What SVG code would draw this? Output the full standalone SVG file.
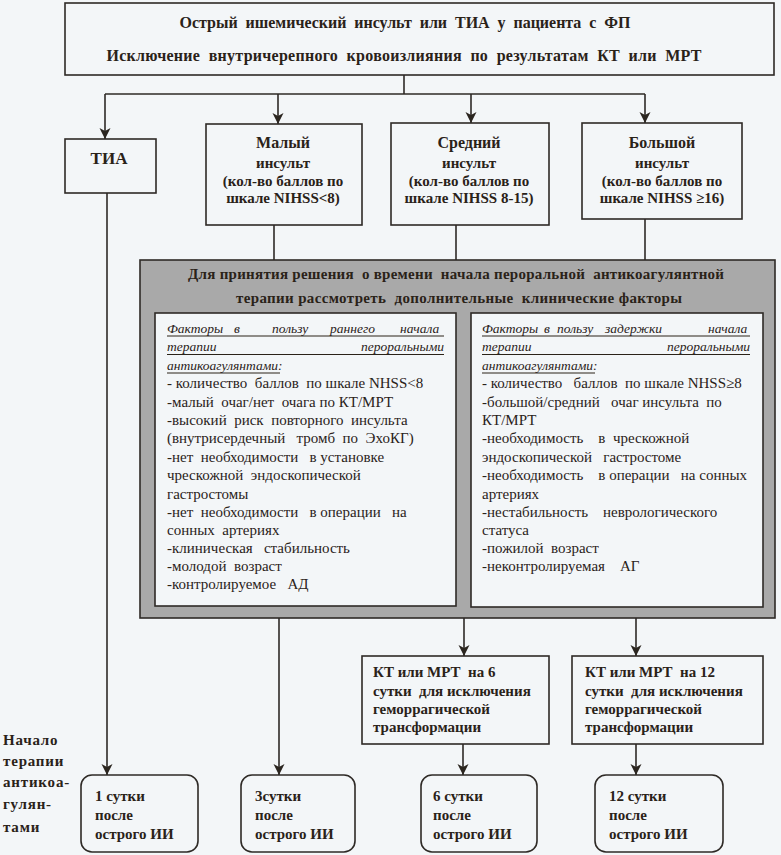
<svg xmlns="http://www.w3.org/2000/svg" width="781" height="855" viewBox="0 0 781 855" xml:space="preserve" font-family="'Liberation Serif', 'DejaVu Serif', serif">
<defs>
<marker id="ah" markerUnits="userSpaceOnUse" markerWidth="12" markerHeight="12" viewBox="0 0 12 12" refX="11" refY="6" orient="auto">
<path d="M0,0.5 L11,6 L0,11.5 L3,6 z" fill="#2b2620"/>
</marker>
<style>
.bg{fill:#f3f6f8}
.box{fill:#f3f6f8;stroke:#2e2a26;stroke-width:1.6}
.gray{fill:#a9a9a9;stroke:#2e2a26;stroke-width:1.6}
.ln{fill:none;stroke:#2e2a26;stroke-width:1.6}
.ar{fill:none;stroke:#2e2a26;stroke-width:1.6;marker-end:url(#ah)}
text{font-family:'Liberation Serif','DejaVu Serif',serif;fill:#2a2218;white-space:pre}
.b{font-weight:bold;font-size:15px}
.t{font-weight:bold;font-size:16px}
.c{text-anchor:middle}
.r{font-size:15px}
.i{font-size:13.5px;font-style:italic}
.ul{stroke:#2a2218;stroke-width:1}
</style>
</defs>
<rect class="bg" x="0" y="0" width="781" height="855"/>

<g id="connectors">
<line class="ln" x1="404" y1="75" x2="404" y2="94"/>
<line class="ln" x1="105" y1="94" x2="645" y2="94"/>
<line class="ar" x1="105" y1="94" x2="105" y2="139"/>
<line class="ar" x1="278" y1="94" x2="278" y2="124"/>
<line class="ar" x1="471" y1="94" x2="471" y2="123"/>
<line class="ar" x1="645" y1="94" x2="645" y2="123"/>
<line class="ln" x1="274" y1="225" x2="274" y2="260"/>
<line class="ln" x1="456" y1="225" x2="456" y2="260"/>
<line class="ln" x1="645" y1="219" x2="645" y2="260"/>
<line class="ar" x1="107" y1="193" x2="107" y2="775"/>
<line class="ar" x1="279" y1="618" x2="279" y2="775"/>
<line class="ar" x1="464" y1="618" x2="464" y2="656"/>
<line class="ar" x1="636" y1="618" x2="636" y2="656"/>
<line class="ar" x1="463" y1="744" x2="463" y2="775"/>
<line class="ar" x1="636" y1="744" x2="636" y2="775"/>
</g>

<g id="top">
<rect class="box" x="65" y="3" width="709" height="72"/>
<text class="t c" x="405" y="28" textLength="451">Острый  ишемический  инсульт  или  ТИА  у  пациента  с  ФП</text>
<text class="t c" x="404" y="61" textLength="595">Исключение  внутричерепного  кровоизлияния  по  результатам  КТ  или  МРТ</text>
</g>

<g id="tia">
<rect class="box" x="65" y="139" width="91" height="54"/>
<text class="c" x="109" y="164" style="font-weight:bold;font-size:17px">ТИА</text>
</g>

<g id="small">
<rect class="box" x="206" y="124" width="156" height="101"/>
<text class="b c" x="283" y="148" style="font-size:16px">Малый</text>
<text class="b c" x="283" y="168">инсульт</text>
<text class="b c" x="283" y="186">(кол-во баллов по</text>
<text class="b c" x="283" y="203">шкале NIHSS&lt;8)</text>
</g>

<g id="medium">
<rect class="box" x="391" y="123" width="158" height="102"/>
<text class="b c" x="469" y="148" style="font-size:16px">Средний</text>
<text class="b c" x="469" y="168">инсульт</text>
<text class="b c" x="469" y="186">(кол-во баллов по</text>
<text class="b c" x="469" y="203">шкале NIHSS 8-15)</text>
</g>

<g id="large">
<rect class="box" x="582" y="123" width="160" height="96"/>
<text class="b c" x="662" y="148" style="font-size:16px">Большой</text>
<text class="b c" x="662" y="168">инсульт</text>
<text class="b c" x="662" y="186">(кол-во баллов по</text>
<text class="b c" x="662" y="203">шкале NIHSS ≥16)</text>
</g>

<g id="factors">
<rect class="gray" x="140" y="260" width="635" height="358"/>
<text class="b c" x="456" y="279" textLength="536">Для принятия решения  о времени  начала пероральной  антикоагулянтной</text>
<text class="b c" x="459" y="303" textLength="446">терапии рассмотреть  дополнительные  клинические факторы</text>
</g>

<g id="early">
<rect class="box" x="155" y="313" width="301" height="293"/>
<text class="i" y="333"><tspan x="167">Факторы</tspan><tspan x="234">в</tspan><tspan x="272">пользу</tspan><tspan x="330">раннего</tspan><tspan x="400">начала</tspan></text>
<text class="i" y="351"><tspan x="167">терапии</tspan><tspan x="444" text-anchor="end">пероральными</tspan></text>
<text class="i" x="167" y="369.5">антикоагулянтами:</text>
<line class="ul" x1="167" y1="336" x2="444" y2="336"/>
<line class="ul" x1="167" y1="354.5" x2="444" y2="354.5"/>
<line class="ul" x1="167" y1="373" x2="280" y2="373"/>
<text class="r" x="167" y="388">- количество  баллов  по шкале NHSS&lt;8</text>
<text class="r" x="167" y="406.5">-малый  очаг/нет  очага по КТ/МРТ</text>
<text class="r" x="167" y="425">-высокий  риск  повторного  инсульта</text>
<text class="r" x="167" y="443">(внутрисердечный   тромб  по  ЭхоКГ)</text>
<text class="r" x="167" y="462">-нет  необходимости   в установке</text>
<text class="r" x="167" y="480">чрескожной  эндоскопической</text>
<text class="r" x="167" y="498.5">гастростомы</text>
<text class="r" x="167" y="516.5">-нет  необходимости   в операции   на</text>
<text class="r" x="167" y="534.5">сонных  артериях</text>
<text class="r" x="167" y="552.5">-клиническая   стабильность</text>
<text class="r" x="167" y="570.5">-молодой  возраст</text>
<text class="r" x="167" y="588.5">-контролируемое   АД</text>
</g>

<g id="delay">
<rect class="box" x="471" y="313" width="292" height="294"/>
<text class="i" y="333"><tspan x="482">Факторы</tspan><tspan x="544">в</tspan><tspan x="557">пользу</tspan><tspan x="605">задержки</tspan><tspan x="708">начала</tspan></text>
<text class="i" y="351"><tspan x="482">терапии</tspan><tspan x="750" text-anchor="end">пероральными</tspan></text>
<text class="i" x="482" y="369.5">антикоагулянтами:</text>
<line class="ul" x1="482" y1="336" x2="750" y2="336"/>
<line class="ul" x1="482" y1="354.5" x2="750" y2="354.5"/>
<line class="ul" x1="482" y1="373" x2="595" y2="373"/>
<text class="r" x="482" y="388">- количество   баллов  по шкале NHSS≥8</text>
<text class="r" x="482" y="406.5">-большой/средний   очаг инсульта  по</text>
<text class="r" x="482" y="425">КТ/МРТ</text>
<text class="r" x="482" y="443">-необходимость    в  чрескожной</text>
<text class="r" x="482" y="462">эндоскопической   гастростоме</text>
<text class="r" x="482" y="480">-необходимость    в операции   на сонных</text>
<text class="r" x="482" y="498.5">артериях</text>
<text class="r" x="482" y="516.5">-нестабильность    неврологического</text>
<text class="r" x="482" y="534.5">статуса</text>
<text class="r" x="482" y="552.5">-пожилой  возраст</text>
<text class="r" x="482" y="570.5">-неконтролируемая    АГ</text>
</g>

<g id="ct6">
<rect class="box" x="362" y="656" width="187" height="88"/>
<text class="b" x="373" y="677">КТ или МРТ  на 6</text>
<text class="b" x="373" y="696">сутки  для исключения</text>
<text class="b" x="373" y="714">геморрагической</text>
<text class="b" x="373" y="732">трансформации</text>
</g>

<g id="ct12">
<rect class="box" x="572" y="656" width="191" height="88"/>
<text class="b" x="585" y="677">КТ или МРТ  на 12</text>
<text class="b" x="585" y="696">сутки  для исключения</text>
<text class="b" x="585" y="714">геморрагической</text>
<text class="b" x="585" y="732">трансформации</text>
</g>

<g id="label">
<text class="b" x="3" y="745" style="letter-spacing:0.8px">Начало</text>
<text class="b" x="3" y="766" style="letter-spacing:0.8px">терапии</text>
<text class="b" x="3" y="787" style="letter-spacing:0.8px">антикоа-</text>
<text class="b" x="3" y="809" style="letter-spacing:0.8px">гулян-</text>
<text class="b" x="3" y="832" style="letter-spacing:0.8px">тами</text>
</g>

<g id="d1">
<rect class="box" x="81" y="775" width="117" height="77" rx="11"/>
<text class="b" x="95" y="801">1 сутки</text>
<text class="b" x="95" y="820">после</text>
<text class="b" x="95" y="839">острого ИИ</text>
</g>

<g id="d3">
<rect class="box" x="241" y="775" width="114" height="77" rx="11"/>
<text class="b" x="255" y="801">3сутки</text>
<text class="b" x="255" y="820">после</text>
<text class="b" x="255" y="839">острого ИИ</text>
</g>

<g id="d6">
<rect class="box" x="421" y="775" width="116" height="77" rx="11"/>
<text class="b" x="433" y="801">6 сутки</text>
<text class="b" x="433" y="820">после</text>
<text class="b" x="433" y="839">острого ИИ</text>
</g>

<g id="d12">
<rect class="box" x="595" y="775" width="128" height="77" rx="11"/>
<text class="b" x="609" y="801">12 сутки</text>
<text class="b" x="609" y="820">после</text>
<text class="b" x="609" y="839">острого ИИ</text>
</g>
</svg>
